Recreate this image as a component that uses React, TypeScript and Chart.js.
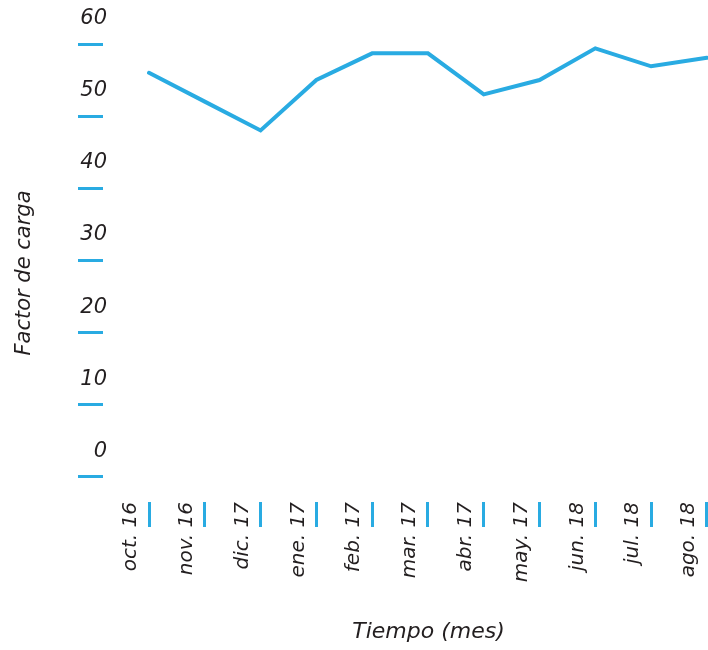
import React, { useEffect, useRef } from "react";
import { Chart, registerables } from "chart.js";

Chart.register(...registerables);

const categories = ["oct. 16", "nov. 16", "dic. 17", "ene. 17", "feb. 17", "mar. 17", "abr. 17", "may. 17", "jun. 18", "jul. 18", "ago. 18"];
const loadFactor = [56, 52, 48, 55, 58.7, 58.7, 53, 55, 59.4, 56.9, 58.1];
const yTickValues = [0, 10, 20, 30, 40, 50, 60];

const BLUE = "#29abe2";
const TEXT = "#231f20";
const FONT = "'DejaVu Sans', sans-serif";

export default function App() {
  const ref = useRef<HTMLCanvasElement | null>(null);

  useEffect(() => {
    if (!ref.current) return;
    const chart = new Chart(ref.current, {
      type: "line",
      data: {
        datasets: [
          {
            data: loadFactor.map((v, i) => ({ x: i, y: v })),
            borderColor: BLUE,
            borderWidth: 4,
            pointRadius: 0,
            tension: 0,
            borderCapStyle: "round",
            clip: false as any,
          },
        ],
      },
      options: {
        responsive: false,
        animation: false,
        layout: { padding: { top: 44, left: 0, right: 0, bottom: 0 } },
        plugins: { legend: { display: false }, tooltip: { enabled: false } },
        scales: {
          x: {
            type: "linear",
            min: 0,
            max: 10.02,
            border: { display: false },
            grid: {
              drawOnChartArea: false,
              drawTicks: true,
              tickLength: 25,
              tickWidth: 3,
              tickColor: BLUE,
            },
            ticks: {
              minRotation: 90,
              maxRotation: 90,
              autoSkip: false,
              padding: -25,
              labelOffset: -18,
              color: TEXT,
              font: { family: FONT, style: "italic", size: 20 },
              callback: (v: any) => categories[Math.round(Number(v))] ?? "",
            },
            afterBuildTicks: (s: any) => {
              s.ticks = categories.map((_, i) => ({ value: i }));
            },
            afterFit: (s: any) => {
              s.height = 148;
            },
            title: {
              display: true,
              text: "Tiempo (mes)",
              color: TEXT,
              font: { family: FONT, style: "italic", size: 22 },
              padding: { top: 0, bottom: 5 },
            },
          },
          y: {
            type: "linear",
            min: -3.6,
            max: 60,
            border: { display: false },
            grid: {
              drawOnChartArea: false,
              drawTicks: true,
              tickLength: 71,
              tickWidth: 3,
              tickColor: BLUE,
              tickBorderDash: [25, 200],
            },
            ticks: {
              padding: -29,
              labelOffset: -25,
              color: TEXT,
              font: { family: FONT, style: "italic", size: 21 },
            },
            afterBuildTicks: (s: any) => {
              s.ticks = yTickValues.map((v) => ({ value: v }));
            },
            afterFit: (s: any) => {
              s.width = 149;
            },
            title: {
              display: true,
              text: "Factor de carga",
              color: TEXT,
              font: { family: FONT, style: "italic", size: 21 },
              padding: { top: 12, bottom: 0 },
            },
          },
        },
      },
    });
    return () => chart.destroy();
  }, []);

  return (
    <div style={{ position: "fixed", left: 0, top: 0, width: 708, height: 650, background: "#fff" }}>
      <canvas ref={ref} width={708} height={650} style={{ width: 708, height: 650, display: "block" }} />
    </div>
  );
}
